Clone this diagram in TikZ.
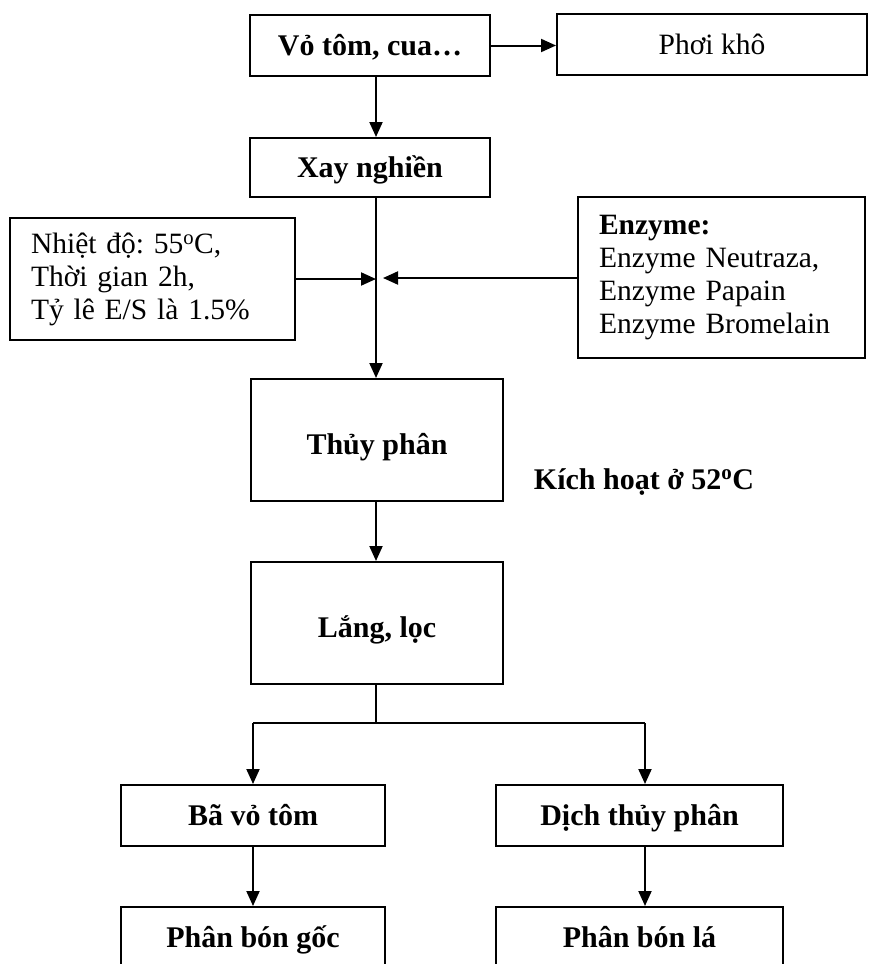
\documentclass[tikz,border=0pt]{standalone}
\usepackage{fontspec}
\setmainfont{Liberation Serif}
\usetikzlibrary{arrows.meta}
\frenchspacing
\begin{document}
\begin{tikzpicture}[x=1pt,y=-1pt,line width=2pt,
  font=\fontsize{29.5}{33}\selectfont\frenchspacing,
  box/.style={draw,rectangle,inner sep=0pt,text height=20pt,text depth=1pt,font=\fontsize{30}{33}\selectfont\bfseries},
  tallbox/.style={box,text height=29pt,text depth=1pt},
  plainbox/.style={draw,rectangle,inner sep=0pt,text height=20pt,text depth=1pt},
  listbox/.style={draw,rectangle,inner xsep=21pt,inner ysep=0pt,align=left},
  arr/.style={-{Triangle[length=15pt,width=13pt]}}]
\useasboundingbox (0,0) rectangle (873,964);
\fill[white] (0,0) rectangle (873,964);
\clip (0,0) rectangle (873,964);
\coordinate (sp) at (376,0);
\node[box,minimum width=240pt,minimum height=61pt] (v) at (370,45.5) {Vỏ tôm, cua…};
\node[plainbox,minimum width=310pt,minimum height=61pt] (ph) at (712,44.5) {Phơi khô};
\node[box,minimum width=240pt,minimum height=59pt] (x) at (370,167.5) {Xay nghiền};
\node[listbox,text width=243pt,minimum height=122pt] (cond) at (152.5,279) {Nhiệt độ: 55\textsuperscript{o}C,\\Thời gian 2h,\\Tỷ lê E/S là 1.5\%};
\node[listbox,text width=245pt,minimum height=161pt] (enz) at (721.5,277.5) {\textbf{Enzyme:}\\Enzyme Neutraza,\\Enzyme Papain\\Enzyme Bromelain};
\node[tallbox,minimum width=252pt,minimum height=122pt] (th) at (377,440) {Thủy phân};
\node[font=\fontsize{30}{33}\selectfont\bfseries,anchor=base] (kh) at (644,489) {Kích hoạt ở 52\textsuperscript{o}C};
\node[tallbox,minimum width=252pt,minimum height=122pt] (ll) at (377,623) {Lắng, lọc};
\node[box,minimum width=264pt,minimum height=61pt] (ba) at (253,815.5) {Bã vỏ tôm};
\node[box,minimum width=287pt,minimum height=61pt] (dich) at (639.5,815.5) {Dịch thủy phân};
\node[box,minimum width=264pt,minimum height=61pt] (pbg) at (253,937.5) {Phân bón gốc};
\node[box,minimum width=287pt,minimum height=61pt] (pbl) at (639.5,937.5) {Phân bón lá};
\coordinate (rt) at (383,278);
\coordinate (jn) at (376,723);
\coordinate (rb) at (645,723);
\draw[arr] (v.east) -- (v.east -| ph.west);
\draw[arr] (v.south -| sp) -- (x.north -| sp);
\draw[arr] (x.south -| sp) -- (th.north -| sp);
\draw[arr] (cond.east) -- (cond.east -| sp);
\draw[arr] (enz.west |- rt) -- (rt);
\draw[arr] (th.south -| sp) -- (ll.north -| sp);
\draw (ll.south -| sp) -- (jn);
\draw (jn -| ba.north) -- (rb);
\draw[arr] (jn -| ba.north) -- (ba.north);
\draw[arr] (rb) -- (rb |- dich.north);
\draw[arr] (ba.south) -- (pbg.north);
\draw[arr] (rb |- dich.south) -- (rb |- pbl.north);
\end{tikzpicture}
\end{document}
